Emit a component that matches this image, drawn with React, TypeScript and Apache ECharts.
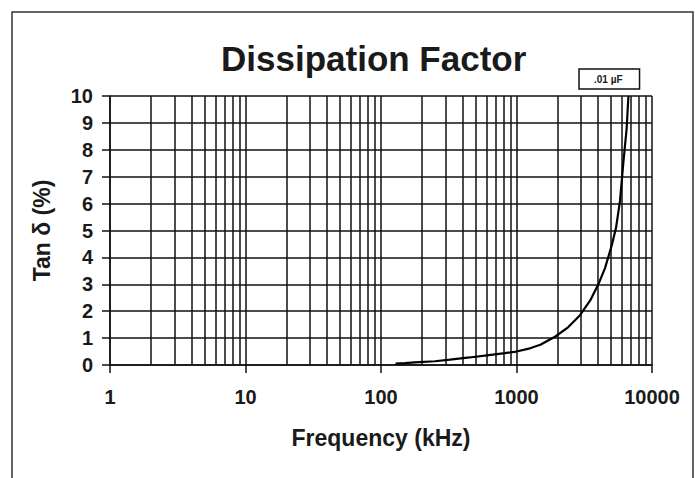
import React, { useEffect, useRef } from "react";
import * as echarts from "echarts";

const TITLE = "Dissipation Factor";
const SERIES_NAME = ".01 µF";
const X_NAME = "Frequency (kHz)";
const Y_NAME = "Tan δ (%)";

// Frequency in kHz and dissipation factor in %
const freqs = [128, 150, 178, 250, 323, 450, 605, 822, 1000, 1257, 1500, 1923, 2400, 2943, 3500, 4018, 4500, 5047, 5425, 5805, 6140, 6500, 6700];
const tanDelta = [0.05, 0.07, 0.1, 0.14, 0.2, 0.28, 0.36, 0.44, 0.5, 0.62, 0.75, 1.05, 1.4, 1.85, 2.4, 3.0, 3.6, 4.45, 5.1, 6.1, 7.5, 8.8, 10];

// Minor log gridlines (2..9 in every decade)
const minorGrid = [2, 3, 4, 5, 6, 7, 8, 9, 20, 30, 40, 50, 60, 70, 80, 90, 200, 300, 400, 500, 600, 700, 800, 900, 2000, 3000, 4000, 5000, 6000, 7000, 8000, 9000];

const FONT = "'Liberation Sans', Arial, Helvetica, sans-serif";
const INK = "#1a1a1a";

export default function App() {
  const ref = useRef<HTMLDivElement>(null);
  useEffect(() => {
    if (!ref.current) return;
    const chart = echarts.init(ref.current, null, { renderer: "svg" });
    chart.setOption({
      animation: false,
      backgroundColor: "#fff",
      textStyle: { fontFamily: FONT },
      title: {
        text: TITLE,
        left: 216,
        top: 36,
        textStyle: { fontFamily: FONT, fontSize: 35, fontWeight: "bold", color: INK },
      },
      legend: {
        data: [SERIES_NAME],
        left: 579,
        top: 69,
        icon: "rect",
        itemWidth: 0,
        itemHeight: 0,
        borderColor: "#111",
        borderWidth: 1.5,
        borderRadius: 0,
        padding: [5, 17, 5, 10],
        textStyle: { fontFamily: FONT, fontSize: 10, fontWeight: "bold", color: INK },
      },
      graphic: [
        {
          type: "rect",
          shape: { x: 12, y: 12, width: 681, height: 520 },
          style: { fill: "none", stroke: "#333", lineWidth: 1.5 },
          silent: true,
        },
      ],
      grid: { left: 110, right: 44, top: 96, bottom: 113 },
      xAxis: {
        type: "log",
        logBase: 10,
        min: 1,
        max: 10000,
        name: X_NAME,
        nameLocation: "middle",
        nameGap: 61,
        nameTextStyle: { fontFamily: FONT, fontSize: 23, fontWeight: "bold", color: INK },
        axisLine: { show: true, lineStyle: { color: "#111", width: 1.5 } },
        axisTick: { show: true, length: 8, lineStyle: { color: "#111", width: 1.5 } },
        axisLabel: {
          fontFamily: FONT,
          fontSize: 20,
          fontWeight: "bold",
          color: INK,
          margin: 22,
          formatter: (v: number) => String(Math.round(v)),
        },
        splitLine: { show: true, lineStyle: { color: "#111", width: 1.5 } },
        minorTick: { show: false },
        minorSplitLine: { show: false },
      },
      yAxis: {
        type: "value",
        min: 0,
        max: 10,
        interval: 1,
        name: Y_NAME,
        nameLocation: "middle",
        nameGap: 57,
        nameTextStyle: { fontFamily: FONT, fontSize: 23, fontWeight: "bold", color: INK },
        axisLine: { show: true, lineStyle: { color: "#111", width: 1.5 } },
        axisTick: { show: true, length: 8, lineStyle: { color: "#111", width: 1.5 } },
        axisLabel: { fontFamily: FONT, fontSize: 20, fontWeight: "bold", color: INK, margin: 17 },
        splitLine: { show: true, lineStyle: { color: "#111", width: 1.5 } },
      },
      series: [
        {
          name: SERIES_NAME,
          type: "line",
          data: freqs.map((f, i) => [f, tanDelta[i]]),
          showSymbol: false,
          symbol: "none",
          smooth: false,
          lineStyle: { color: "#000", width: 2.2 },
          itemStyle: { color: "#000" },
          z: 5,
          markLine: {
            silent: true,
            symbol: ["none", "none"],
            label: { show: false },
            lineStyle: { color: "#111", width: 1.5, type: "solid" },
            data: minorGrid.map((v) => ({ xAxis: v })),
            z: 1,
          },
        },
      ],
    });
    return () => chart.dispose();
  }, []);
  return (
    <div
      ref={ref}
      style={{ position: "absolute", left: 0, top: 0, width: 696, height: 478 }}
    />
  );
}
